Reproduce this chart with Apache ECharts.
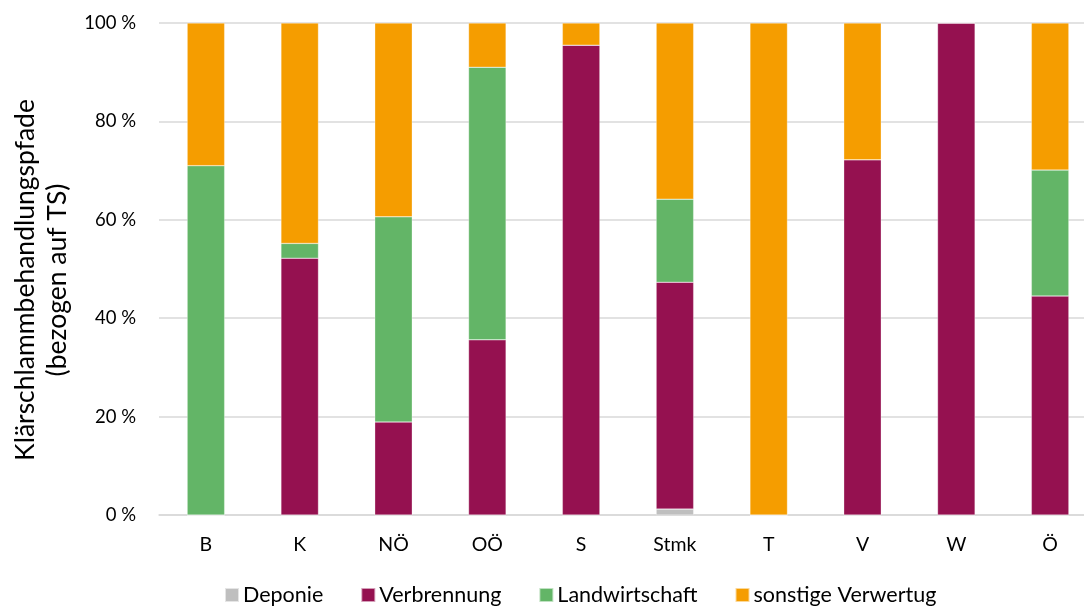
<!DOCTYPE html>
<html>
<head>
<meta charset="utf-8">
<script src="https://cdn.jsdelivr.net/npm/echarts@6/dist/echarts.min.js"></script>
<style>
  html, body { margin: 0; padding: 0; background: #fff; overflow: hidden; }
  #wrap { width: 1084px; height: 611px; overflow: hidden; }
  #chart { width: 1110px; height: 611px; }
</style>
</head>
<body>
<div id="wrap"><div id="chart"></div></div>
<script>
// Bundesländer
const categories = ['B', 'K', 'NÖ', 'OÖ', 'S', 'Stmk', 'T', 'V', 'W', 'Ö'];

// Anteile der Behandlungspfade in % (bezogen auf TS)
const deponie        = [0,    0,    0,    0,    0,    1.2,  0,   0,    0,   0];
const verbrennung    = [0,    52.2, 18.9, 35.6, 95.5, 46.1, 0,   72.2, 100, 44.5];
const landwirtschaft = [71.0, 3.0,  41.7, 55.4, 0,    16.9, 0,   0,    0,   25.6];
const sonstige       = [29.0, 44.8, 39.4, 9.0,  4.5,  35.8, 100, 27.8, 0,   29.9];

const yTicks = { min: 0, max: 100, interval: 20 };

const font = 'Lato, "Open Sans", sans-serif';

function stackSeries(name, data, color) {
  return {
    name: name,
    type: 'bar',
    stack: 'total',
    data: data,
    barWidth: '40%',
    itemStyle: { color: color, borderColor: 'rgba(255,255,255,0.6)', borderWidth: 0.5 },
    emphasis: { disabled: true }
  };
}

const chart = echarts.init(document.getElementById('chart'));
chart.setOption({
  animation: false,
  textStyle: { fontFamily: font },
  // the last category column runs slightly past the visible right edge
  grid: { left: 159, right: 13, top: 23, bottom: 96 },
  legend: {
    bottom: 0,
    left: 219,
    itemWidth: 14,
    itemHeight: 14,
    itemGap: 37,
    icon: 'rect',
    textStyle: { fontSize: 21.5, color: '#000', fontFamily: font, padding: [0, 0, 0, -1] },
    data: ['Deponie', 'Verbrennung', 'Landwirtschaft', 'sonstige Verwertug']
  },
  xAxis: {
    type: 'category',
    data: categories,
    axisTick: { show: false },
    axisLine: { lineStyle: { color: '#d9d9d9', width: 1.5 } },
    axisLabel: { color: '#000', fontSize: 19.5, margin: 20, fontFamily: font }
  },
  yAxis: {
    type: 'value',
    min: yTicks.min,
    max: yTicks.max,
    interval: yTicks.interval,
    name: 'Klärschlammbehandlungspfade\n(bezogen auf TS)',
    nameLocation: 'middle',
    nameRotate: 90,
    nameGap: 86,
    nameTextStyle: {
      fontSize: 26.5, color: '#000', lineHeight: 32, fontFamily: font,
      padding: [0, 22, 0, 0]
    },
    axisLine: { show: false },
    axisTick: { show: false },
    splitLine: { lineStyle: { color: '#d9d9d9', width: 1.5 } },
    axisLabel: {
      color: '#000', fontSize: 18.5, margin: 23, fontFamily: font,
      formatter: '{value} %'
    }
  },
  series: [
    stackSeries('Deponie', deponie, '#bfbfbf'),
    stackSeries('Verbrennung', verbrennung, '#951150'),
    stackSeries('Landwirtschaft', landwirtschaft, '#63b567'),
    stackSeries('sonstige Verwertug', sonstige, '#f59d00')
  ]
});
</script>
</body>
</html>
